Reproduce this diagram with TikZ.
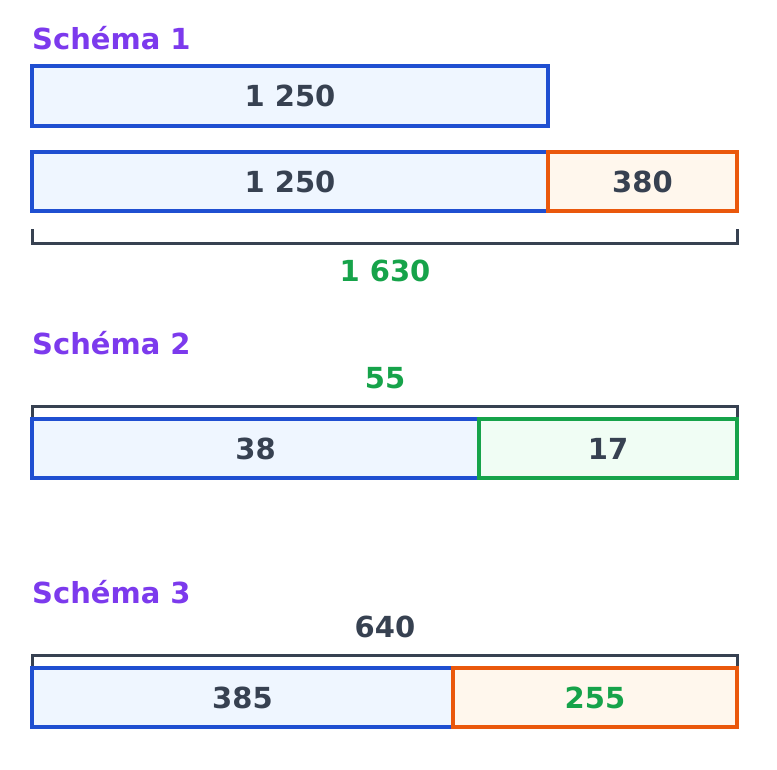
\documentclass[tikz,border=0pt]{standalone}
\usepackage{fontspec}
\setmainfont{DejaVu Sans}
\definecolor{bluestroke}{HTML}{1F4FD1}
\definecolor{bluefill}{HTML}{EFF6FF}
\definecolor{orstroke}{HTML}{EA580C}
\definecolor{orfill}{HTML}{FFF7ED}
\definecolor{grstroke}{HTML}{16A34A}
\definecolor{grfill}{HTML}{F0FDF4}
\definecolor{purp}{HTML}{7C3AED}
\definecolor{darktxt}{HTML}{374151}
\tikzset{
  bar/.style={draw, line width=3.5pt, inner sep=0pt, outer sep=0pt, text=darktxt,
    font=\fontsize{29}{31}\selectfont\bfseries},
  bluebar/.style={bar, draw=bluestroke, fill=bluefill},
  orbar/.style={bar, draw=orstroke, fill=orfill},
  grbar/.style={bar, draw=grstroke, fill=grfill},
  title/.style={text=purp, anchor=base west, inner sep=0pt, font=\fontsize{29}{31}\selectfont\bfseries},
  lbl/.style={inner sep=0pt, font=\fontsize{29}{31}\selectfont\bfseries},
  brace/.style={draw=darktxt, line width=3pt},
}
\begin{document}
\begin{tikzpicture}[x=1pt,y=-1pt]
\useasboundingbox (0,0) rectangle (777,769);
% Schema 1
\node[title] (t1) at (32,49) {Schéma 1};
\node[bluebar, minimum width=516pt, minimum height=60pt] (a1) at (290,96) {1 250};
\node[bluebar, minimum width=516pt, minimum height=59pt] (a2) at (290,181.5) {1 250};
\node[orbar, minimum width=189pt, minimum height=59pt] (b2) at (642.5,181.5) {380};
\coordinate (br1a) at (32,229);
\coordinate (br1b) at (737,229);
\draw[brace] (br1a) -- ++(0,14) -| (br1b);
\node[lbl, text=grstroke] (s1) at (385,271) {1 630};
% Schema 2
\node[title] (t2) at (32,354) {Schéma 2};
\node[lbl, text=grstroke] (s2) at (385,378) {55};
\coordinate (br2a) at (32,418);
\coordinate (br2b) at (737,418);
\draw[brace] (br2a) -- ++(0,-12) -| (br2b);
\node[bluebar, minimum width=447pt, minimum height=59pt] (c1) at (255.5,448.5) {38};
\node[grbar, minimum width=258pt, minimum height=59pt] (c2) at (608,448.5) {17};
% Schema 3
\node[title] (t3) at (32,603) {Schéma 3};
\node[lbl, text=darktxt] (s3) at (385,627) {640};
\coordinate (br3a) at (32,668);
\coordinate (br3b) at (737,668);
\draw[brace] (br3a) -- ++(0,-13) -| (br3b);
\node[bluebar, minimum width=421pt, minimum height=59pt] (d1) at (242.5,697.5) {385};
\node[orbar, minimum width=284pt, minimum height=59pt, text=grstroke] (d2) at (595,697.5) {255};
\end{tikzpicture}
\end{document}
